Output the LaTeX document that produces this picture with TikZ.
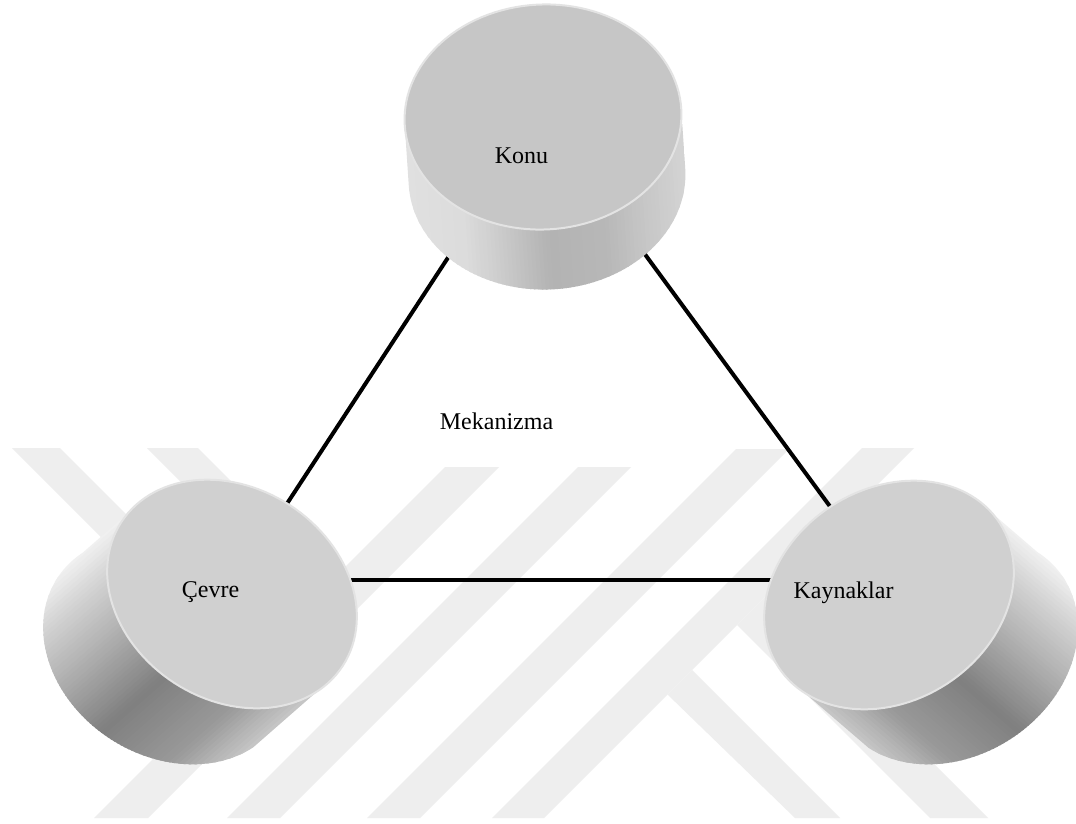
\documentclass[tikz,border=0pt]{standalone}
\usepackage{fontspec}
\setmainfont{Liberation Serif}
\definecolor{wmgray}{gray}{0.935}
\definecolor{faceA}{gray}{0.815}
\definecolor{faceK}{gray}{0.775}
\definecolor{rimc}{gray}{0.89}
\tikzset{
  declare function={
    profA(\f)=ifthenelse(\f<0.13,0.95-0.923*\f,ifthenelse(\f<0.31,0.83-0.7222*(\f-0.13),ifthenelse(\f<0.57,0.70-0.7692*(\f-0.31),ifthenelse(\f<0.83,0.50+0.3846*(\f-0.57),0.60+1.0588*(\f-0.83)))));
    profK(\f)=ifthenelse(\f<0.2,0.88-0.1*\f,ifthenelse(\f<0.5,0.86-0.5333*(\f-0.2),ifthenelse(\f<0.7,0.70+0.1*(\f-0.5),ifthenelse(\f<0.85,0.72+0.4*(\f-0.7),0.78+0.3333*(\f-0.85)))));
  },
  link/.style={line width=4pt, draw=black, line cap=butt},
  lbl/.style={font=\fontsize{24}{28}\selectfont, anchor=base, inner sep=0pt, text=black},
  wmark/.style={fill=wmgray, draw=none},
}
% cylinder: uses \ccx \ccy \ca \cb \cphi \cdx \cdy \csgn \cprof \cface
\newcommand{\mycylinder}{%
  \pgfmathsetmacro\cyUx{cos(\cphi)}%
  \pgfmathsetmacro\cyUy{sin(\cphi)}%
  \pgfmathsetmacro\cyDl{veclen(\cdx,\cdy)}%
  \pgfmathsetmacro\cyDhx{(\cdx)/(\cyDl)}%
  \pgfmathsetmacro\cyDhy{(\cdy)/(\cyDl)}%
  \pgfmathsetmacro\cyNx{(\csgn)*(\cyDhy)}%
  \pgfmathsetmacro\cyNy{0-(\csgn)*(\cyDhx)}%
  \pgfmathsetmacro\cyDu{(\cdx)*(\cyUx)+(\cdy)*(\cyUy)}%
  \pgfmathsetmacro\cyDv{0-(\cdx)*(\cyUy)+(\cdy)*(\cyUx)}%
  \pgfmathsetmacro\cyTs{atan2((\cyDv)*((\cb)/(\ca)),\cyDu)}%
  \pgfmathsetmacro\cyNu{(\cyNx)*(\cyUx)+(\cyNy)*(\cyUy)}%
  \pgfmathsetmacro\cyNv{0-(\cyNx)*(\cyUy)+(\cyNy)*(\cyUx)}%
  \pgfmathsetmacro\cyH{(\ca)*sqrt((\cyNu)*(\cyNu)+((\cb)/(\ca))*((\cb)/(\ca))*(\cyNv)*(\cyNv))}%
  \pgfmathsetmacro\cyTA{\cyTs-90}%
  \pgfmathsetmacro\cyTB{\cyTs+90}%
  \pgfmathsetmacro\cyL{\cyDl+\ca+20}%
  \begin{scope}
    \clip plot[variable=\t, domain=\cyTA:\cyTB, samples=80]
      ({\ccx+(\cdx)+(\ca)*cos(\t)*(\cyUx)-(\cb)*sin(\t)*(\cyUy)},
       {\ccy+(\cdy)+(\ca)*cos(\t)*(\cyUy)+(\cb)*sin(\t)*(\cyUx)})
      -- ({\ccx+(\ca)*cos(\cyTB)*(\cyUx)-(\cb)*sin(\cyTB)*(\cyUy)},
          {\ccy+(\ca)*cos(\cyTB)*(\cyUy)+(\cb)*sin(\cyTB)*(\cyUx)})
      -- ({\ccx+(\ca)*cos(\cyTA)*(\cyUx)-(\cb)*sin(\cyTA)*(\cyUy)},
          {\ccy+(\ca)*cos(\cyTA)*(\cyUy)+(\cb)*sin(\cyTA)*(\cyUx)})
      -- cycle;
    \foreach \i in {0,...,69}{%
      \pgfmathsetmacro\sA{0-(\cyH)+2*(\cyH)*(\i/70)-0.7}%
      \pgfmathsetmacro\sB{0-(\cyH)+2*(\cyH)*((\i+1)/70)+0.7}%
      \pgfmathsetmacro\gv{\cprof((\i+0.5)/70)}%
      \definecolor{bandc}{gray}{\gv}%
      \fill[bandc]
        ({\ccx+(\sA)*(\cyNx)-(\cyL)*(\cyDhx)},{\ccy+(\sA)*(\cyNy)-(\cyL)*(\cyDhy)})
        -- ({\ccx+(\sB)*(\cyNx)-(\cyL)*(\cyDhx)},{\ccy+(\sB)*(\cyNy)-(\cyL)*(\cyDhy)})
        -- ({\ccx+(\sB)*(\cyNx)+(\cyL)*(\cyDhx)},{\ccy+(\sB)*(\cyNy)+(\cyL)*(\cyDhy)})
        -- ({\ccx+(\sA)*(\cyNx)+(\cyL)*(\cyDhx)},{\ccy+(\sA)*(\cyNy)+(\cyL)*(\cyDhy)})
        -- cycle;
    }
  \end{scope}
  \filldraw[fill=\cface, draw=rimc, line width=2pt]
    plot[variable=\t, domain=0:360, samples=121]
      ({\ccx+(\ca)*cos(\t)*(\cyUx)-(\cb)*sin(\t)*(\cyUy)},
       {\ccy+(\ca)*cos(\t)*(\cyUy)+(\cb)*sin(\t)*(\cyUx)}) -- cycle;
}
\begin{document}
\begin{tikzpicture}[x=1pt, y=-1pt]
  \useasboundingbox (0,0) rectangle (1076,824);
  \clip (0,0) rectangle (1076,824);
  \fill[white] (0,0) rectangle (1076,824);
  % watermark stripes
  \fill[wmark] (445,467) -- (499,467) -- (148,818) -- (94,818) -- cycle;
  \fill[wmark] (578,467) -- (631,467) -- (280,818) -- (227,818) -- cycle;
  \fill[wmark] (736,449) -- (789,449) -- (420,818) -- (367,818) -- cycle;
  \fill[wmark] (862,448) -- (914,448) -- (544,818) -- (492,818) -- cycle;
  \fill[wmark] (12,448) -- (60,448) -- (262,650) -- (238,674) -- cycle;
  \fill[wmark] (147,448) -- (198,448) -- (331,581) -- (305.5,606.5) -- cycle;
  \fill[wmark] (737,625) -- (766,596) -- (988,818) -- (930,818) -- cycle;
  \fill[wmark] (692,670) -- (840,818) -- (795,818) -- (667.5,694.5) -- cycle;
  % connector end points (cylinder centres)
  \coordinate (konuC) at (542,114);
  \coordinate (cevreC) at (237,580);
  \coordinate (kaynakC) at (884,580);
  \draw[link] (konuC) -- (cevreC);
  \draw[link] (konuC) -- (kaynakC);
  \draw[link] (cevreC) -- (kaynakC);
  % cylinders
  \def\ccx{543}\def\ccy{117}\def\ca{138.5}\def\cb{112.5}\def\cphi{-3}%
  \def\cdx{4}\def\cdy{60}\def\csgn{1}\def\cprof{profK}\def\cface{faceK}%
  \mycylinder
  \def\ccx{232}\def\ccy{594}\def\ca{132}\def\cb{106}\def\cphi{33}%
  \def\cdx{-64}\def\cdy{56}\def\csgn{1}\def\cprof{profA}\def\cface{faceA}%
  \mycylinder
  \def\ccx{889}\def\ccy{595}\def\ca{132}\def\cb{106}\def\cphi{-33}%
  \def\cdx{64}\def\cdy{55}\def\csgn{-1}\def\cprof{profA}\def\cface{faceA}%
  \mycylinder
  % labels
  \node[lbl] (konu) at (521.5,164) {Konu};
  \node[lbl] (cevre) at (210.5,597) {Çevre};
  \node[lbl] (kaynak) at (843.5,598) {Kaynaklar};
  \node[lbl] (mek) at (496.5,429) {Mekanizma};
\end{tikzpicture}
\end{document}
